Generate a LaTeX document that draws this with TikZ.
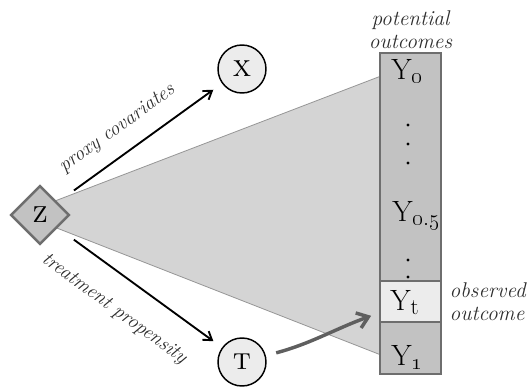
\documentclass[tikz,border=0pt]{standalone}
\usepackage{tikz}
\usetikzlibrary{shapes.geometric,arrows.meta,positioning}
\definecolor{pocone}{RGB}{212,212,212}
\definecolor{poconeline}{RGB}{150,150,150}
\definecolor{pocol}{RGB}{194,194,194}
\definecolor{poborder}{RGB}{110,110,110}
\definecolor{polight}{RGB}{236,236,236}
\definecolor{potext}{RGB}{45,45,45}
\definecolor{poarrow}{RGB}{95,95,95}
\newcommand{\posub}[1]{\raisebox{-3pt}{\fontsize{17}{17}\selectfont #1}}

\begin{document}
\begin{tikzpicture}[
    x=0.75pt, y=-0.75pt,
    font=\fontsize{16}{17}\selectfont,
    var/.style={
        circle, draw=black, line width=1.1pt, fill=polight,
        minimum size=36pt, inner sep=0pt,
        font=\fontsize{23}{24}\selectfont\scshape
    },
    conf/.style={
        diamond, aspect=1, draw=poborder, line width=1.8pt, fill=pocol,
        minimum width=44pt, minimum height=44pt, inner sep=0pt,
        font=\fontsize{23}{24}\selectfont\scshape
    },
    column/.style={
        rectangle, draw=poborder, line width=2pt, fill=pocol,
        minimum width=45.75pt, minimum height=240.75pt, inner sep=0pt
    },
    cell/.style={column, fill=polight, minimum height=30.75pt},
    outcome/.style={anchor=base west, inner sep=0pt, font=\fontsize{22}{24}\selectfont},
    note/.style={font=\fontsize{16}{17}\selectfont\itshape, text=potext},
    edgenote/.style={note, font=\fontsize{15}{16}\selectfont\itshape},
    arrow/.style={-{Straight Barb[length=6pt,width=8pt]}, line width=1.4pt, color=black},
    bigarrow/.style={-{Straight Barb[length=8pt,width=12pt]}, line width=2.6pt, color=poarrow}
]
\useasboundingbox (0,0) rectangle (528,390);

% cone behind everything
\coordinate (apex) at (21,214);
\fill[pocone] (apex) -- (381,76) -- (381,355) -- cycle;
\draw[poconeline, line width=0.6pt] (apex) -- (381,76);
\draw[poconeline, line width=0.6pt] (apex) -- (381,355);

% potential outcomes column
\node[column] (pot) at (410.5,213.5) {};
\foreach \yy in {125,144,163,260,277}
    \fill (408,\yy) circle (1.6);
\node[cell] (yt) at (410.5,301.5) {};

\node[outcome] (y0)  at (391,79)  {Y\posub{\oldstylenums{0}}};
\node[outcome] (y05) at (392,221) {Y\posub{\oldstylenums{0.5}}};
\node[outcome] (ytl) at (390,310) {Y\posub{t}};
\node[outcome] (y1)  at (391,365) {Y\posub{\oldstylenums{1}}};

\node[note, align=center, above=-1pt of pot] (potlab) {potential\\outcomes};
\node[note, align=left, right=2pt of yt] (obslab) {observed\\outcome};

% variables
\node[conf] (z) at (40,215) {z};
\node[var]  (x) at (242,69)  {x};
\node[var]  (t) at (242,362) {t};

% arrows
\draw[arrow, shorten <=15pt, shorten >=8pt] (z) -- (x)
    node[edgenote, pos=0.45, sloped, above=8pt] {proxy covariates};
\draw[arrow, shorten <=15pt, shorten >=8pt] (z) -- (t)
    node[edgenote, pos=0.46, sloped, below=14pt] {treatment propensity};
\draw[bigarrow, shorten <=8pt, shorten >=6pt] (t) to[out=15, in=200] (yt);
\end{tikzpicture}
\end{document}
